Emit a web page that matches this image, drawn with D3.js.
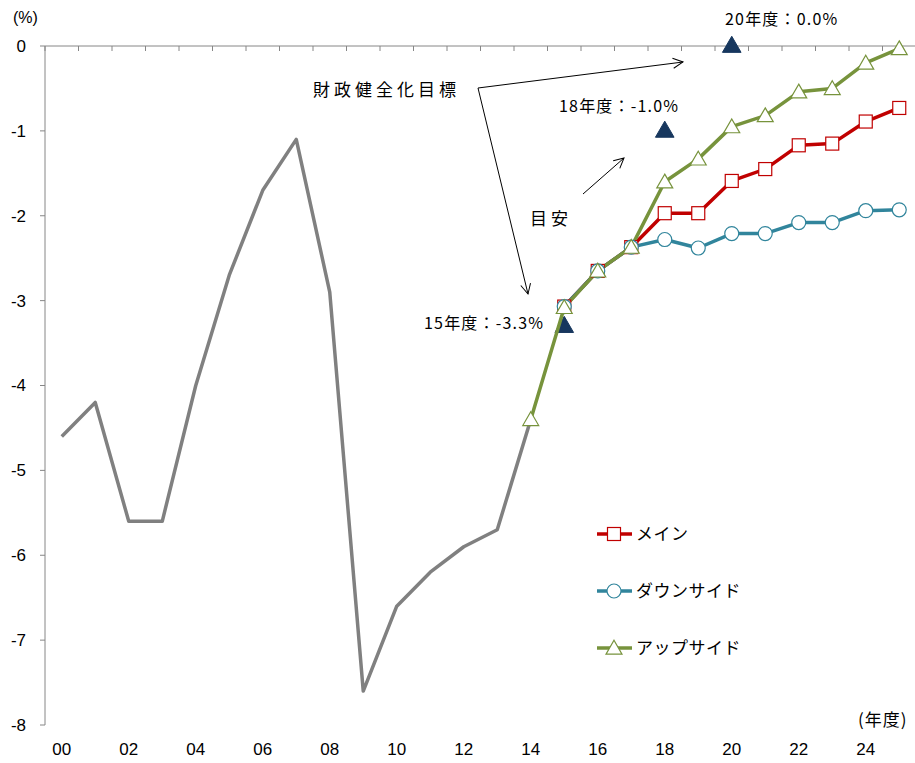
<!DOCTYPE html>
<html>
<head>
<meta charset="utf-8">
<script src="https://cdn.jsdelivr.net/npm/d3@7"></script>
<style>
  html, body { margin: 0; padding: 0; background: #fff; }
  svg { display: block; }
  .num { font-family: "Liberation Sans Narrow", "Arial Narrow", "Liberation Sans", Arial, sans-serif; }
  .jp { font-family: "Noto Sans CJK JP", "Noto Sans", sans-serif; }
</style>
</head>
<body>
<svg id="chart" width="915" height="763"></svg>
<script>
// Fiscal years (2000 = 0)
const years = d3.range(0, 26);
const yTicks = [0, -1, -2, -3, -4, -5, -6, -7, -8];
const xTickLabels = ["00", "02", "04", "06", "08", "10", "12", "14", "16", "18", "20", "22", "24"];

// Actual primary balance, FY2000-FY2014 (% of GDP)
const actualYears = d3.range(0, 15);
const actual = [-4.6, -4.2, -5.6, -5.6, -4.0, -2.7, -1.7, -1.1, -2.9, -7.6, -6.6, -6.2, -5.9, -5.7, -4.4];

// Projection scenarios
const mainYears = d3.range(15, 26);
const mainCase = [-3.07, -2.65, -2.37, -1.97, -1.97, -1.59, -1.45, -1.17, -1.15, -0.89, -0.73];
const downYears = d3.range(15, 26);
const downside = [-3.07, -2.65, -2.37, -2.28, -2.38, -2.21, -2.21, -2.08, -2.08, -1.94, -1.93];
const upYears = d3.range(14, 26);
const upside = [-4.4, -3.08, -2.65, -2.37, -1.60, -1.33, -0.95, -0.82, -0.54, -0.50, -0.20, -0.03];

// Fiscal consolidation targets
const targetYears = [15, 18, 20];
const targetValues = [-3.3, -1.0, 0.0];
const targetLabels = ["15年度：-3.3%", "18年度：-1.0%", "20年度：0.0%"];

const legendNames = ["メイン", "ダウンサイド", "アップサイド"];

const svg = d3.select("#chart");

const x = d3.scaleBand().domain(years).range([45, 916]).padding(0);
const cx = d => x(d) + x.bandwidth() / 2;
const y = d3.scaleLinear().domain([-8, 0]).range([725, 46]);

const axisColor = "#868686";

// Y axis
svg.append("line").attr("x1", 45).attr("x2", 45).attr("y1", y(0)).attr("y2", y(-8))
  .attr("stroke", axisColor).attr("stroke-width", 1);
svg.selectAll(".ytick").data(yTicks).enter().append("line")
  .attr("x1", 40).attr("x2", 45).attr("y1", d => y(d)).attr("y2", d => y(d))
  .attr("stroke", axisColor);
svg.selectAll(".ylab").data(yTicks).enter().append("text")
  .attr("class", "num")
  .attr("x", 26).attr("y", d => y(d)).attr("dy", "0.35em")
  .attr("text-anchor", "end").attr("font-size", 17).attr("fill", "#000")
  .text(d => d === 0 ? "0" : String(d));
svg.append("text").attr("class", "num").attr("x", 13).attr("y", 23)
  .attr("font-size", 16).text("(%)");

// X axis line at zero with category boundary ticks
svg.append("line").attr("x1", 45).attr("x2", 916).attr("y1", y(0)).attr("y2", y(0))
  .attr("stroke", axisColor);
svg.selectAll(".xtick").data(years.concat([26])).enter().append("line")
  .attr("x1", d => d < 26 ? x(d) : x(25) + x.bandwidth())
  .attr("x2", d => d < 26 ? x(d) : x(25) + x.bandwidth())
  .attr("y1", y(0)).attr("y2", y(0) + 5)
  .attr("stroke", axisColor);
svg.selectAll(".xlab").data(xTickLabels).enter().append("text")
  .attr("class", "num")
  .attr("x", d => cx(+d)).attr("y", 755)
  .attr("text-anchor", "middle").attr("font-size", 17).text(d => d);
svg.append("text").attr("class", "jp").attr("x", 858).attr("y", 726)
  .attr("font-size", 17).attr("letter-spacing", 1).text("(年度)");

// Target markers
const tri = d3.symbol().type(d3.symbolTriangle);
svg.selectAll(".target").data(targetYears).enter().append("path")
  .attr("d", tri.size(150)())
  .attr("transform", (d, i) => `translate(${cx(d)},${y(targetValues[i]) + 1})`)
  .attr("fill", "#17375E").attr("stroke", "#17375E");

// Lines
const line = d3.line().x(d => cx(d[0])).y(d => y(d[1]));
const zip = (xs, vs) => xs.map((d, i) => [d, vs[i]]);

svg.append("path").datum(zip(actualYears, actual)).attr("d", line)
  .attr("fill", "none").attr("stroke", "#808080").attr("stroke-width", 3.5)
  .attr("stroke-linejoin", "round");

const series = [
  { data: zip(mainYears, mainCase), color: "#C00000", marker: "square" },
  { data: zip(downYears, downside), color: "#31859C", marker: "circle" },
  { data: zip(upYears, upside), color: "#77933C", marker: "triangle" }
];

function drawMarker(g, type, color) {
  if (type === "square") {
    g.append("rect").attr("x", -6.5).attr("y", -6.5).attr("width", 13).attr("height", 13)
      .attr("fill", "#fff").attr("stroke", color).attr("stroke-width", 1.2);
  } else if (type === "circle") {
    g.append("circle").attr("r", 7).attr("fill", "#fff").attr("stroke", color).attr("stroke-width", 1.2);
  } else {
    g.append("path").attr("d", d3.symbol().type(d3.symbolTriangle).size(110)())
      .attr("transform", "translate(0,1.5)")
      .attr("fill", "#fff").attr("stroke", color).attr("stroke-width", 1.2);
  }
}

series.forEach(s => {
  svg.append("path").datum(s.data).attr("d", line)
    .attr("fill", "none").attr("stroke", s.color).attr("stroke-width", 3.5)
    .attr("stroke-linejoin", "round");
});
series.forEach(s => {
  s.data.forEach(p => {
    const g = svg.append("g").attr("transform", `translate(${cx(p[0])},${y(p[1])})`);
    drawMarker(g, s.marker, s.color);
  });
});

// Annotations
const jpText = (tx, ty, t, size, spacing) => svg.append("text").attr("class", "jp")
  .attr("x", tx).attr("y", ty).attr("font-size", size || 15)
  .attr("letter-spacing", spacing || 0).attr("fill", "#000").text(t);

const labelPos = [[424, 329], [559, 112], [725, 25]];
targetLabels.forEach((t, i) => jpText(labelPos[i][0], labelPos[i][1], t, 16, 1.2));
jpText(313, 96, "財政健全化目標", 17, 4);
jpText(530, 225, "目安", 17, 4);

const defs = svg.append("defs");
defs.append("marker").attr("id", "arrow").attr("viewBox", "0 0 12 12")
  .attr("refX", 11).attr("refY", 6).attr("markerWidth", 12).attr("markerHeight", 12)
  .attr("markerUnits", "userSpaceOnUse").attr("orient", "auto")
  .append("path").attr("d", "M1,1 L11,6 L1,11").attr("fill", "none")
  .attr("stroke", "#000").attr("stroke-width", 1);

const arrow = (x1, y1, x2, y2) => svg.append("line")
  .attr("x1", x1).attr("y1", y1).attr("x2", x2).attr("y2", y2)
  .attr("stroke", "#000").attr("stroke-width", 1).attr("marker-end", "url(#arrow)");
arrow(478, 88, 683, 62);
arrow(478, 88, 528, 294);
arrow(583, 194, 624, 158);

// Legend
const legendY = [534, 591, 648];
series.forEach((s, i) => {
  svg.append("line").attr("x1", 597).attr("x2", 632).attr("y1", legendY[i]).attr("y2", legendY[i])
    .attr("stroke", s.color).attr("stroke-width", 3.5);
  const g = svg.append("g").attr("transform", `translate(614,${legendY[i]})`);
  drawMarker(g, s.marker, s.color);
  jpText(636, legendY[i] + 6, legendNames[i], 17, 0.5);
});
</script>
</body>
</html>
